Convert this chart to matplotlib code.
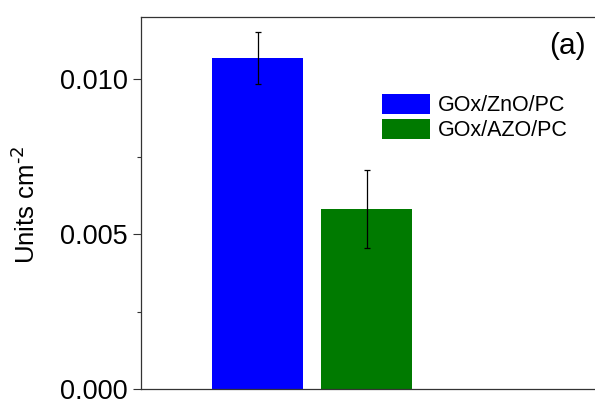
import matplotlib
matplotlib.use("Agg")
import matplotlib.pyplot as plt
from matplotlib.ticker import MultipleLocator, FormatStrFormatter

plt.rcParams['font.family'] = ['Liberation Sans', 'DejaVu Sans']
plt.rcParams['mathtext.default'] = 'regular'

# data
samples = ["GOx/ZnO/PC", "GOx/AZO/PC"]
activity = [0.01068, 0.00581]
activity_err = [0.00083, 0.00127]
bar_colors = ["#0000FF", "#007A00"]

W, H = 595, 401
fig = plt.figure(figsize=(W / 100, H / 100), dpi=100)

# axes runs past the right edge of the picture, like the cropped original
left_px, right_px, top_px, bottom_px = 141, 640, 17, 389
ax = fig.add_axes([left_px / W, (H - bottom_px) / H,
                   (right_px - left_px) / W, (bottom_px - top_px) / H])

positions = list(range(len(samples)))
bars = ax.bar(positions, activity, width=0.835, color=bar_colors,
              label=samples, zorder=2)
ax.errorbar(positions, activity, yerr=activity_err, fmt='none',
            ecolor='black', elinewidth=0.9, capsize=2.5, capthick=0.9,
            zorder=3)

ax.set_xlim(-1.073, 3.505)
ax.set_ylim(0, 0.012)
ax.yaxis.set_major_locator(MultipleLocator(0.005))
ax.yaxis.set_minor_locator(MultipleLocator(0.0025))
ax.yaxis.set_major_formatter(FormatStrFormatter('%.3f'))
ax.set_xticks([])
ax.tick_params(axis='y', which='major', length=6, width=0.8, pad=3.5,
               labelsize=19.5, direction='out', color='#333333')
ax.tick_params(axis='y', which='minor', length=3, width=0.8,
               direction='out', color='#333333')
for side in ['left', 'top', 'bottom']:
    ax.spines[side].set_linewidth(0.9)
    ax.spines[side].set_color('#333333')
ax.spines['right'].set_visible(False)

fig.text(26 / W, 1 - 205 / H, r"Units cm$^{\text{-2}}$", rotation=90,
         ha='center', va='center', fontsize=18.5)
fig.text(567 / W, 1 - 46 / H, "(a)", ha='center', va='center', fontsize=21.5)

fig.legend(handles=bars.patches, labels=samples, loc='upper left',
           bbox_to_anchor=(382 / W, 1 - 94 / H), bbox_transform=fig.transFigure,
           frameon=False, fontsize=15.5, borderpad=0, borderaxespad=0,
           handlelength=2.23, handleheight=1.05, handletextpad=0.35,
           labelspacing=0.12)

fig.savefig("out.png", dpi=100)
